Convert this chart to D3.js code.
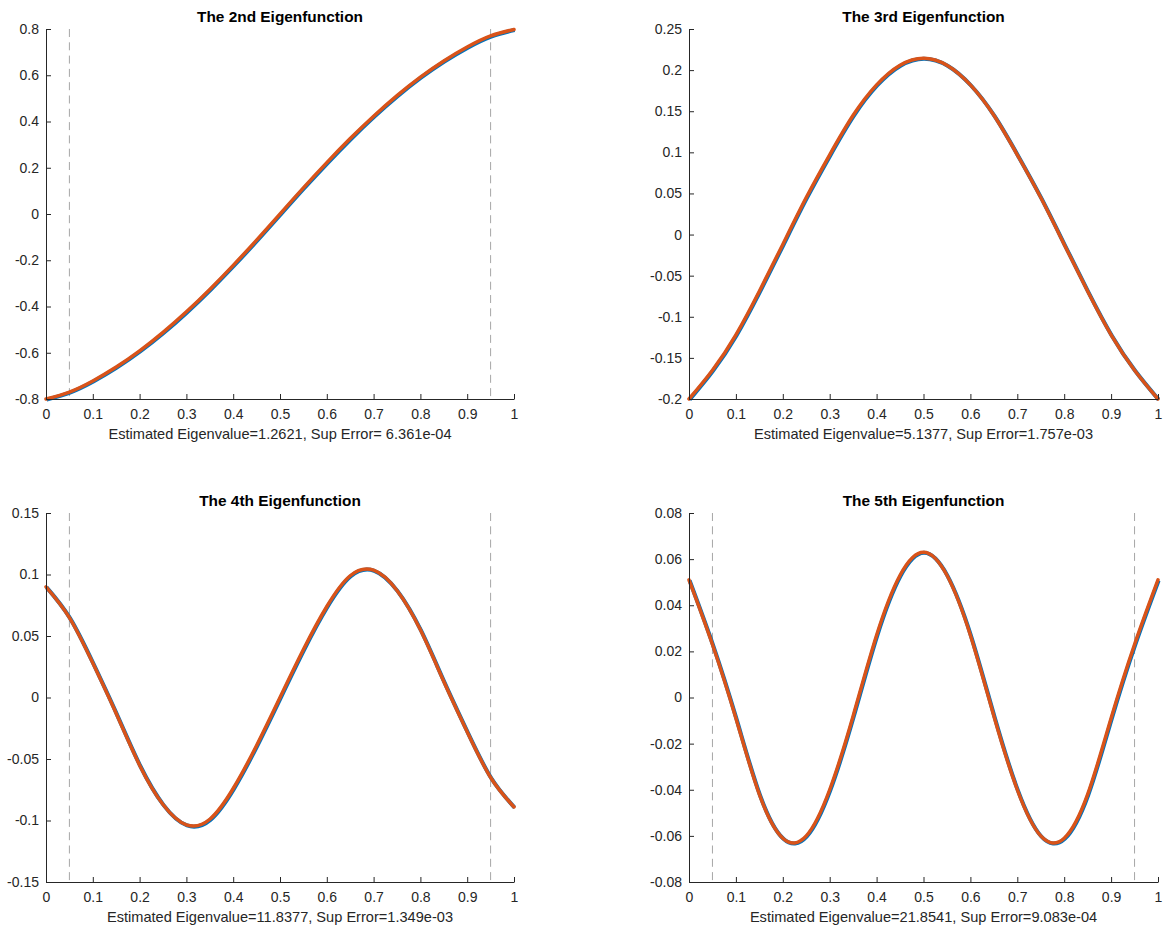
<!DOCTYPE html>
<html>
<head>
<meta charset="utf-8">
<script src="https://cdn.jsdelivr.net/npm/d3@7"></script>
<style>
  body { margin: 0; background: #fff; }
  svg { display: block; font-family: "Liberation Sans", Arial, Helvetica, sans-serif; }
</style>
</head>
<body>
<div id="chart"></div>
<script>
// Panel titles and x labels
const titles = ["The 2nd Eigenfunction", "The 3rd Eigenfunction", "The 4th Eigenfunction", "The 5th Eigenfunction"];
const xLabels = [
    "Estimated Eigenvalue=1.2621, Sup Error= 6.361e-04",
    "Estimated Eigenvalue=5.1377, Sup Error=1.757e-03",
    "Estimated Eigenvalue=11.8377, Sup Error=1.349e-03",
    "Estimated Eigenvalue=21.8541, Sup Error=9.083e-04"
];

// x ticks shared by all panels
const xTicks = [0, 0.1, 0.2, 0.3, 0.4, 0.5, 0.6, 0.7, 0.8, 0.9, 1];
const xTickLabels = ["0", "0.1", "0.2", "0.3", "0.4", "0.5", "0.6", "0.7", "0.8", "0.9", "1"];

// y ticks per panel
const yTicks2nd = [-0.8, -0.6, -0.4, -0.2, 0, 0.2, 0.4, 0.6, 0.8];
const yTickLabels2nd = ["-0.8", "-0.6", "-0.4", "-0.2", "0", "0.2", "0.4", "0.6", "0.8"];
const yTicks3rd = [-0.2, -0.15, -0.1, -0.05, 0, 0.05, 0.1, 0.15, 0.2, 0.25];
const yTickLabels3rd = ["-0.2", "-0.15", "-0.1", "-0.05", "0", "0.05", "0.1", "0.15", "0.2", "0.25"];
const yTicks4th = [-0.15, -0.1, -0.05, 0, 0.05, 0.1, 0.15];
const yTickLabels4th = ["-0.15", "-0.1", "-0.05", "0", "0.05", "0.1", "0.15"];
const yTicks5th = [-0.08, -0.06, -0.04, -0.02, 0, 0.02, 0.04, 0.06, 0.08];
const yTickLabels5th = ["-0.08", "-0.06", "-0.04", "-0.02", "0", "0.02", "0.04", "0.06", "0.08"];

const xGrid = [0, 0.05, 0.1, 0.15, 0.2, 0.25, 0.3, 0.35, 0.4, 0.45, 0.5, 0.55, 0.6, 0.65, 0.7, 0.75, 0.8, 0.85, 0.9, 0.95, 1];
const y2nd = [-0.800, -0.770, -0.722, -0.662, -0.592, -0.512, -0.423, -0.326, -0.222, -0.113, 0, 0.113, 0.222, 0.326, 0.423, 0.512, 0.592, 0.662, 0.722, 0.770, 0.798];
const y3rd = [-0.200, -0.165, -0.122, -0.069, -0.012, 0.045, 0.097, 0.145, 0.182, 0.206, 0.2145, 0.206, 0.182, 0.145, 0.097, 0.045, -0.012, -0.069, -0.122, -0.165, -0.200];
const y4th = [0.090, 0.065, 0.028, -0.013, -0.055, -0.087, -0.1035, -0.099, -0.074, -0.039, 0, 0.039, 0.074, 0.099, 0.1035, 0.087, 0.055, 0.013, -0.028, -0.065, -0.089];
const y5th = [0.051, 0.023, -0.009, -0.042, -0.061, -0.060, -0.040, -0.008, 0.027, 0.053, 0.063, 0.053, 0.027, -0.008, -0.040, -0.060, -0.061, -0.042, -0.009, 0.023, 0.051];

// Dashed reference lines
const dashedX = [0.05, 0.95];

const width = 1165;
const height = 934;
const colLeft = [46, 689];
const colWidth = [468, 469];
const rowTop = [29, 513];
const rowHeight = [370, 369];

const axisColor = "#262626";
const blue = "#0072BD";
const orange = "#D95319";

const panels = [
    { title: titles[0], label: xLabels[0], ys: y2nd, yDomain: [-0.8, 0.8], yTicks: yTicks2nd, yLabels: yTickLabels2nd, dashed: true, col: 0, row: 0 },
    { title: titles[1], label: xLabels[1], ys: y3rd, yDomain: [-0.2, 0.25], yTicks: yTicks3rd, yLabels: yTickLabels3rd, dashed: false, col: 1, row: 0 },
    { title: titles[2], label: xLabels[2], ys: y4th, yDomain: [-0.15, 0.15], yTicks: yTicks4th, yLabels: yTickLabels4th, dashed: true, col: 0, row: 1 },
    { title: titles[3], label: xLabels[3], ys: y5th, yDomain: [-0.08, 0.08], yTicks: yTicks5th, yLabels: yTickLabels5th, dashed: true, col: 1, row: 1 }
];

const svg = d3.select("#chart")
    .append("svg")
    .attr("width", width)
    .attr("height", height);

svg.append("rect")
    .attr("width", width)
    .attr("height", height)
    .attr("fill", "#fff");

panels.forEach(p => {
    const w = colWidth[p.col];
    const h = rowHeight[p.row];
    const g = svg.append("g")
        .attr("transform", `translate(${colLeft[p.col]},${rowTop[p.row]})`);

    const x = d3.scaleLinear().domain([0, 1]).range([0, w]);
    const y = d3.scaleLinear().domain(p.yDomain).range([h, 0]);

    // dashed vertical lines
    if (p.dashed) {
        g.selectAll("line.dash")
            .data(dashedX)
            .enter()
            .append("line")
            .attr("class", "dash")
            .attr("x1", d => x(d))
            .attr("x2", d => x(d))
            .attr("y1", 0)
            .attr("y2", h)
            .attr("stroke", "#a6a6a6")
            .attr("stroke-width", 1)
            .attr("stroke-dasharray", "8,5.3");
    }

    const pts = xGrid.map((d, i) => [d, p.ys[i]]);
    const line = d3.line()
        .x(d => x(d[0]))
        .y(d => y(d[1]))
        .curve(d3.curveNatural);

    // true function (blue) under the estimate (orange)
    g.append("path")
        .datum(pts)
        .attr("d", line)
        .attr("fill", "none")
        .attr("stroke", blue)
        .attr("stroke-width", 4)
        .attr("transform", "translate(0.6,0.6)");

    g.append("path")
        .datum(pts)
        .attr("d", line)
        .attr("fill", "none")
        .attr("stroke", orange)
        .attr("stroke-width", 3.5)
        .attr("stroke-linecap", "round");

    // axes, ticks pointing inward like MATLAB
    const xAxis = d3.axisBottom(x)
        .tickValues(xTicks)
        .tickFormat((d, i) => xTickLabels[i])
        .tickSizeInner(-5)
        .tickSizeOuter(0)
        .tickPadding(10);

    const yAxis = d3.axisLeft(y)
        .tickValues(p.yTicks)
        .tickFormat((d, i) => p.yLabels[i])
        .tickSizeInner(-5)
        .tickSizeOuter(0)
        .tickPadding(7);

    const gx = g.append("g")
        .attr("transform", `translate(0,${h})`)
        .call(xAxis);
    const gy = g.append("g").call(yAxis);

    [gx, gy].forEach(a => {
        a.select(".domain").attr("stroke", axisColor).attr("stroke-width", 1);
        a.selectAll(".tick line").attr("stroke", axisColor).attr("stroke-width", 1);
        a.selectAll(".tick text")
            .attr("fill", axisColor)
            .style("font-size", "14px")
            .style("font-family", "'Liberation Sans', Arial, Helvetica, sans-serif");
    });

    // title
    g.append("text")
        .attr("x", w / 2)
        .attr("y", -7.5)
        .attr("text-anchor", "middle")
        .style("font-size", "15.4px")
        .style("font-weight", "bold")
        .attr("fill", "#000")
        .text(p.title);

    // x label
    g.append("text")
        .attr("x", w / 2)
        .attr("y", h + 40)
        .attr("text-anchor", "middle")
        .style("font-size", "14.6px")
        .attr("fill", axisColor)
        .text(p.label);
});
</script>
</body>
</html>
